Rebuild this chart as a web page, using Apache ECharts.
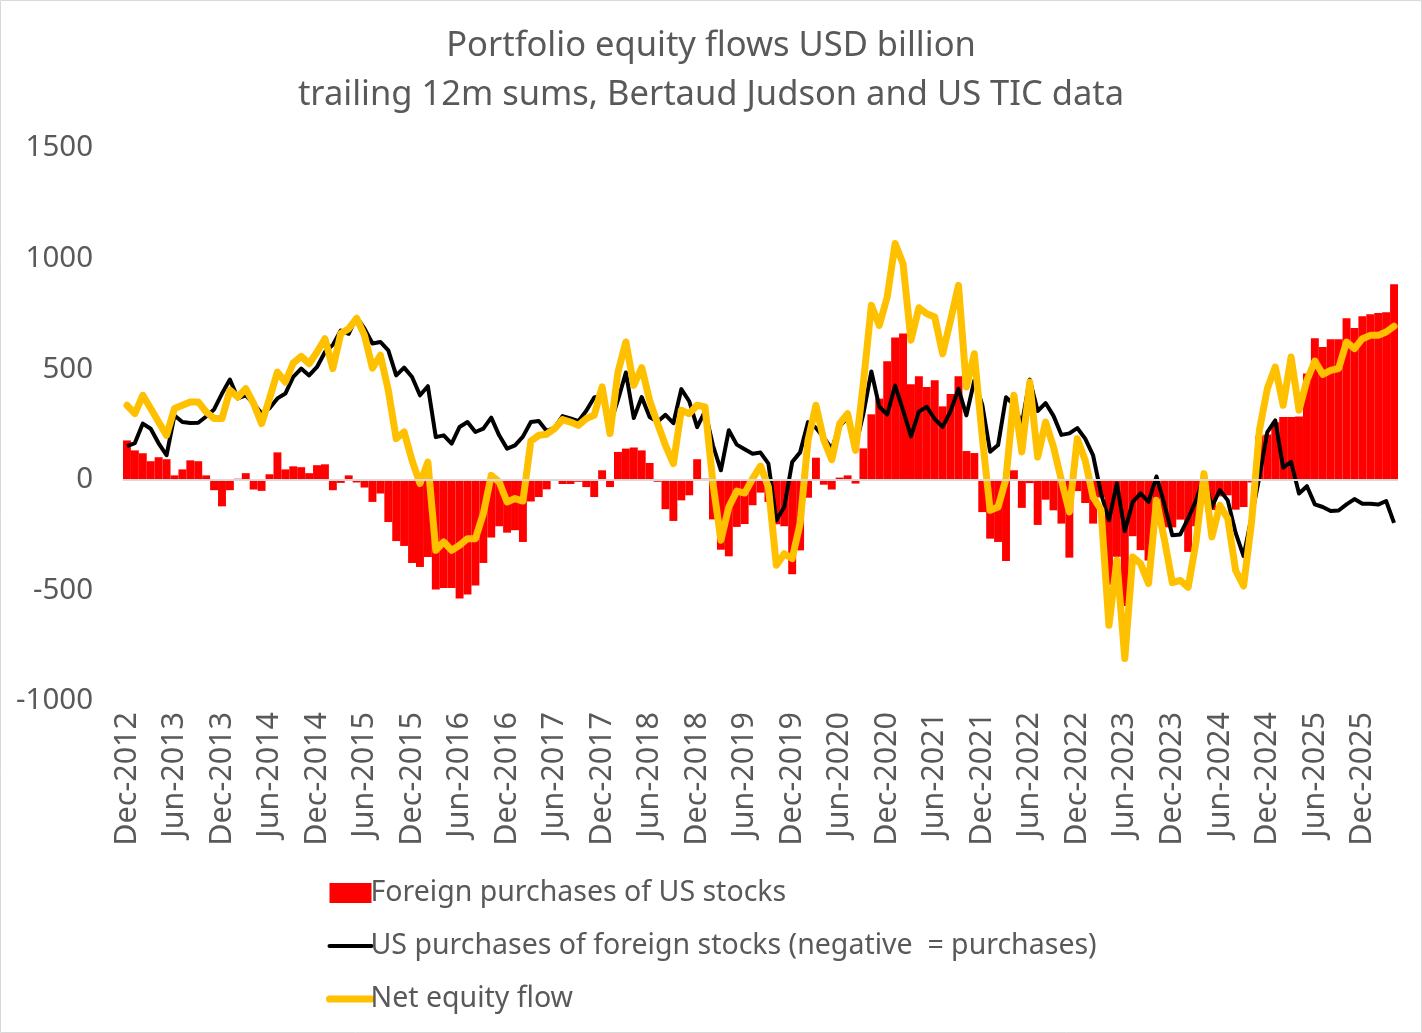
<!DOCTYPE html>
<html>
<head>
<meta charset="utf-8">
<script src="https://cdn.jsdelivr.net/npm/echarts@6/dist/echarts.min.js"></script>
<style>
html,body{margin:0;padding:0;background:#fff;}
#chart{width:1422px;height:1033px;}
</style>
</head>
<body>
<div id="chart"></div>
<script>
// Categories: monthly, Dec-2012 .. Apr-2026
var monthNames = ['Jan','Feb','Mar','Apr','May','Jun','Jul','Aug','Sep','Oct','Nov','Dec'];
var categories = ['Dec-2012'];
for (var yr = 2013; yr <= 2026; yr++) {
  for (var m = 0; m < 12; m++) {
    if (yr === 2026 && m > 3) break;
    categories.push(monthNames[m] + '-' + yr);
  }
}

var yTicks = [-1000, -500, 0, 500, 1000, 1500];

// Foreign purchases of US stocks (bars)
var foreignPurchases = [
  178,133,120,84,102,93,20,47,88,84,20,-47,-120,-47,5,30,-44,-50,25,124,
  47,61,57,30,66,70,-47,-14,20,-12,-35,-100,-62,-191,-277,-299,-376,-394,-349,-496,
  -489,-489,-537,-519,-478,-376,-261,-210,-239,-228,-281,-98,-78,-43,-3,-19,-19,-9,-33,-78,
  43,-33,126,141,146,133,76,-9,-133,-186,-93,-70,93,5,-179,-316,-346,-213,-200,-115,
  -58,-100,-201,-210,-427,-319,-81,100,-22,-44,10,20,-17,142,296,367,536,643,661,432,
  468,420,450,332,388,468,130,121,-146,-266,-281,-367,43,-127,-15,-204,-90,-138,-198,-352,
  -51,-105,-198,-80,-475,-348,-570,-255,-318,-365,-170,-215,-215,-180,-326,-210,-40,-137,-75,-70,
  -135,-123,-12,200,205,260,284,284,286,480,640,600,635,635,730,686,739,748,754,757,
  884
];

// US purchases of foreign stocks (negative = purchases)
var usPurchases = [
  152,166,254,231,165,111,291,261,257,258,286,318,390,453,368,382,345,300,323,368,
  390,465,503,472,510,578,610,675,660,736,683,616,623,585,472,507,465,382,423,193,
  201,164,239,261,216,231,281,201,141,156,195,261,266,221,235,288,278,265,312,372,
  380,250,361,485,279,374,284,262,294,256,410,355,238,310,155,43,224,159,138,118,
  123,73,-183,-123,80,124,261,235,190,140,244,279,150,300,490,330,295,426,315,196,
  308,330,275,239,310,411,291,449,340,127,157,373,339,253,453,311,347,289,203,210,
  234,186,110,-62,-183,-16,-232,-100,-61,-100,15,-110,-251,-247,-175,-93,15,-123,-46,-93,
  -240,-345,-170,13,216,269,55,81,-62,-29,-111,-123,-141,-139,-111,-87,-108,-108,-112,-96,
  -195
];

// Net equity flow
var netFlow = [
  337,299,382,322,261,201,322,337,352,352,307,277,277,405,374,412,344,254,367,487,
  442,528,558,525,578,638,503,661,683,730,653,505,563,405,186,216,88,-17,80,-319,
  -281,-319,-296,-266,-266,-153,20,-10,-100,-85,-96,175,201,206,231,272,261,246,277,292,
  420,209,487,623,427,507,359,254,156,73,314,299,337,329,-17,-273,-123,-51,-60,5,
  62,-33,-386,-334,-356,-198,179,337,179,91,254,299,133,440,789,698,826,1068,977,631,
  778,751,736,570,721,879,420,570,194,-138,-123,5,382,126,442,103,261,148,-2,-145,
  186,88,-78,-135,-658,-364,-808,-349,-379,-469,-93,-270,-465,-455,-486,-280,28,-258,-115,-175,
  -410,-480,-195,224,412,510,337,555,314,450,537,477,495,503,623,593,638,653,653,668,
  694
];

var textColor = '#595959';
var hiddenSymbol = {color: 'rgba(0,0,0,0)', borderWidth: 0, borderColor: 'rgba(0,0,0,0)'};
var chart = echarts.init(document.getElementById('chart'), null, {renderer: 'canvas'});
chart.setOption({
  backgroundColor: '#ffffff',
  animation: false,
  title: {
    text: 'Portfolio equity flows USD billion\ntrailing 12m sums, Bertaud Judson and US TIC data',
    left: 'center',
    top: 17,
    textStyle: {
      fontFamily: 'Noto Sans',
      fontSize: 34.5,
      fontWeight: 'normal',
      color: textColor,
      lineHeight: 49
    }
  },
  legend: {
    orient: 'vertical',
    left: 326,
    top: 878,
    itemWidth: 42,
    itemHeight: 20,
    itemGap: 23,
    padding: 0,
    textStyle: {fontFamily: 'Noto Sans', fontSize: 28.5, lineHeight: 30, color: textColor, padding: [0,0,0,-6]},
    data: [
      {name: 'Foreign purchases of US stocks', icon: 'rect'},
      {name: 'US purchases of foreign stocks (negative  = purchases)',
        itemStyle: hiddenSymbol, lineStyle: {color: '#000000', width: 4, cap: 'round'}},
      {name: 'Net equity flow',
        itemStyle: hiddenSymbol, lineStyle: {color: '#ffc000', width: 7, cap: 'round'}}
    ]
  },
  graphic: [{
    type: 'rect',
    shape: {x: 0.5, y: 0.5, width: 1421, height: 1032},
    style: {fill: 'none', stroke: '#d9d9d9', lineWidth: 1},
    silent: true
  }],
  grid: {left: 123, right: 24, top: 148, bottom: 332, containLabel: false},
  xAxis: {
    type: 'category',
    data: categories,
    boundaryGap: true,
    axisLine: {show: false},
    axisTick: {show: false},
    splitLine: {show: false},
    axisLabel: {
      interval: 5,
      rotate: 90,
      margin: 11,
      color: textColor,
      fontFamily: 'Noto Sans',
      fontSize: 30.5
    }
  },
  yAxis: {
    type: 'value',
    min: yTicks[0],
    max: yTicks[yTicks.length - 1],
    interval: 500,
    axisLine: {show: false},
    axisTick: {show: false},
    splitLine: {show: false},
    axisLabel: {
      color: textColor,
      fontFamily: 'Noto Sans',
      fontSize: 29.5,
      margin: 30,
      formatter: function (v) { return String(v); }
    }
  },
  series: [
    {
      name: 'Foreign purchases of US stocks',
      type: 'bar',
      data: foreignPurchases,
      barCategoryGap: '0%',
      itemStyle: {color: '#ff0000'},
      markLine: {
        silent: true,
        symbol: 'none',
        label: {show: false},
        lineStyle: {color: '#d9d9d9', width: 2, type: 'solid'},
        data: [{yAxis: 0}]
      },
      z: 1
    },
    {
      name: 'US purchases of foreign stocks (negative  = purchases)',
      type: 'line',
      data: usPurchases,
      symbol: 'none',
      lineStyle: {color: '#000000', width: 4, join: 'round'},
      itemStyle: {color: '#000000'},
      z: 3
    },
    {
      name: 'Net equity flow',
      type: 'line',
      data: netFlow,
      symbol: 'none',
      lineStyle: {color: '#ffc000', width: 7, join: 'round', cap: 'round'},
      itemStyle: {color: '#ffc000'},
      z: 4
    }
  ]
});
</script>
</body>
</html>
